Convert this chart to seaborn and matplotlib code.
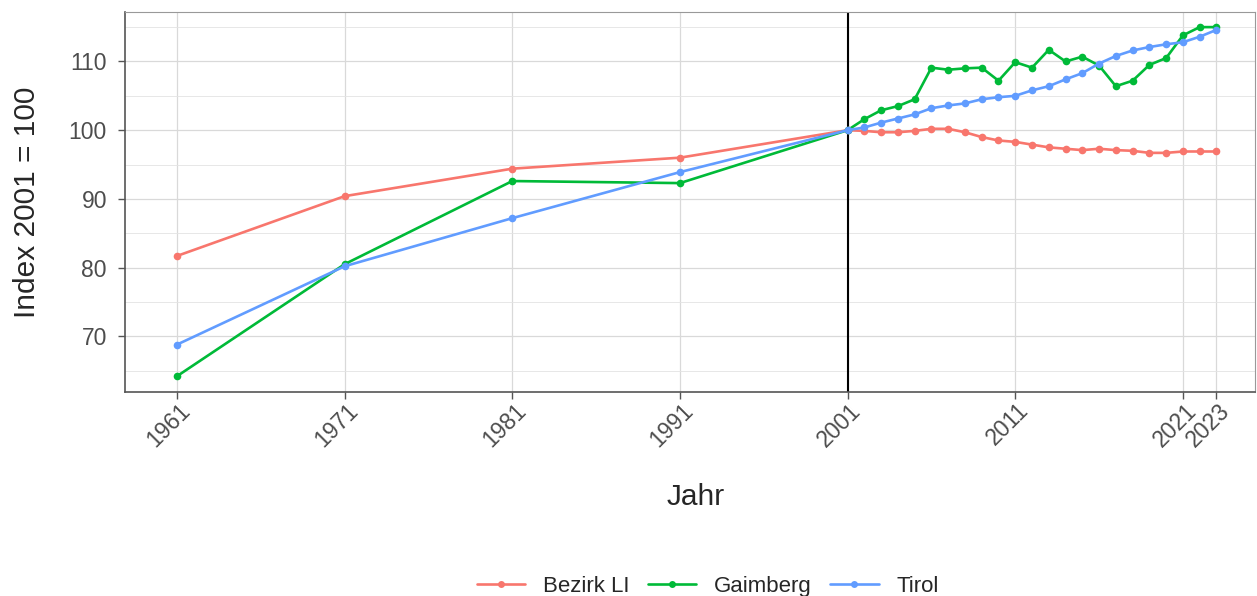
import pandas as pd
import numpy as np
import matplotlib
matplotlib.use('Agg')
import matplotlib.pyplot as plt
import matplotlib.transforms as mtrans
import seaborn as sns
from matplotlib.lines import Line2D
from matplotlib.ticker import MultipleLocator

sns.set_style('white')
plt.rcParams['font.family'] = ['Liberation Sans', 'DejaVu Sans']

# --- data ---
years = [1961, 1971, 1981, 1991, 2001] + list(range(2002, 2024))

bezirk_li = [81.7, 90.4, 94.4, 96.0, 100.0,
             99.9, 99.7, 99.7, 99.9, 100.2, 100.2, 99.7, 99.0, 98.5, 98.3,
             97.9, 97.5, 97.3, 97.1, 97.3, 97.1, 97.0, 96.7, 96.7, 96.9,
             96.9, 96.9]
gaimberg = [64.2, 80.5, 92.6, 92.3, 100.0,
            101.6, 102.9, 103.5, 104.5, 109.1, 108.8, 109.0, 109.1, 107.2, 109.9,
            109.1, 111.7, 110.0, 110.7, 109.4, 106.4, 107.2, 109.5, 110.5, 113.8,
            115.0, 115.0]
tirol = [68.8, 80.2, 87.2, 93.9, 100.0,
         100.4, 101.1, 101.7, 102.3, 103.2, 103.6, 103.9, 104.5, 104.8, 105.0,
         105.8, 106.4, 107.4, 108.3, 109.7, 110.8, 111.6, 112.1, 112.5, 112.8,
         113.6, 114.6]

regions = ['Bezirk LI', 'Gaimberg', 'Tirol']
colors = ['#F8766D', '#00BA38', '#619CFF']
x_breaks = [1961, 1971, 1981, 1991, 2001, 2011, 2021, 2023]

df = pd.DataFrame({
    'Jahr': years * 3,
    'Index': bezirk_li + gaimberg + tirol,
    'Region': np.repeat(regions, len(years)),
})

fig = plt.figure(figsize=(12.57, 5.96), dpi=100)
ax = fig.add_axes([125 / 1257, 1 - 392 / 596, 1130 / 1257, 380 / 596])

# grid
ax.set_xticks(x_breaks)
ax.yaxis.set_major_locator(MultipleLocator(10))
ax.yaxis.set_minor_locator(MultipleLocator(5))
ax.grid(True, which='major', color='#d9d9d9', linewidth=0.9)
ax.grid(True, which='minor', axis='y', color='#e3e3e3', linewidth=0.6)
ax.set_axisbelow(True)

ax.axvline(2001, color='black', linewidth=1.5, zorder=1)

sns.lineplot(data=df, x='Jahr', y='Index', hue='Region', hue_order=regions,
             palette=colors, marker='o', markersize=5.5, markeredgewidth=0,
             linewidth=1.9, legend=False, ax=ax, zorder=3)

ax.set_xlim(1957.9, 2025.3)
ax.set_ylim(61.9, 117.2)

ax.set_xticklabels([str(y) for y in x_breaks], rotation=45, ha='right',
                   va='top', rotation_mode='anchor')
ax.tick_params(axis='both', which='major', labelsize=16.5, labelcolor='#4d4d4d',
               color='#555555', length=5, width=1, direction='out',
               bottom=True, left=True)
ax.tick_params(axis='y', which='minor', length=0)
ax.tick_params(axis='x', pad=0)
ax.tick_params(axis='y', pad=8)

# shift rotated x labels slightly to the right, like the reference
shift = mtrans.ScaledTranslation(2 / 100, 0, fig.dpi_scale_trans)
for lab in ax.get_xticklabels():
    lab.set_transform(lab.get_transform() + shift)

ax.set_xlabel('Jahr', fontsize=21.5, va='center')
ax.xaxis.set_label_coords(0.505, -0.276)
ax.set_ylabel('Index 2001 = 100', fontsize=21.5, va='center')
ax.yaxis.set_label_coords(-0.087, 0.5)

for side in ['left', 'bottom']:
    ax.spines[side].set_color('#555555')
    ax.spines[side].set_linewidth(1.2)
for side in ['top', 'right']:
    ax.spines[side].set_color('#999999')
    ax.spines[side].set_linewidth(0.8)

handles = [Line2D([0], [0], color=c, linewidth=1.9, marker='o', markersize=5,
                  markeredgewidth=0) for c in colors]
fig.legend(handles, regions, loc='center', bbox_to_anchor=(0.563, 0.016),
           ncol=3, frameon=False, fontsize=16, handlelength=2.2,
           columnspacing=0.8, handletextpad=0.8)

fig.savefig('out.png', dpi=100)
